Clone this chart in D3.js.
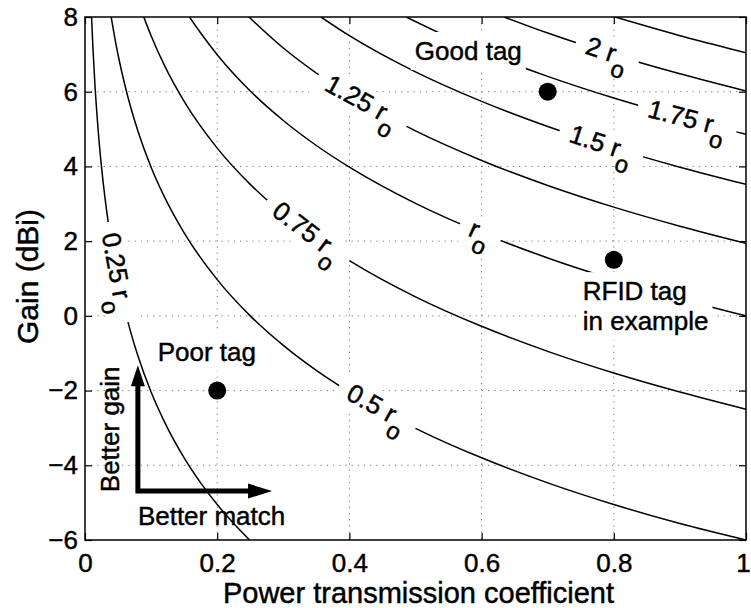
<!DOCTYPE html>
<html>
<head>
<meta charset="utf-8">
<script src="https://cdn.jsdelivr.net/npm/d3@7"></script>
<style>
body { margin: 0; background: #fff; }
svg text { font-family: "Liberation Sans", Arial, Helvetica, sans-serif; fill: #000; stroke: #000; stroke-width: 0.45px; white-space: pre; }
</style>
</head>
<body>
<svg id="chart" width="751" height="608"></svg>
<script>
// contour levels, in multiples of r_o, and the points: [tau, gain dBi]
const levels = [0.25, 0.5, 0.75, 1, 1.25, 1.5, 1.75, 2, 2.25]
const levelNames = ['0.25', '0.5', '0.75', '', '1.25', '1.5', '1.75', '2', null]
const labelTau = [0.048, 0.442, 0.336, 0.598, 0.419, 0.781, 0.911, 0.79, null]

const curve025 = [[0.0099, 8.0], [0.012, 7.17], [0.015, 6.2], [0.02, 4.95], [0.025, 3.98], [0.03, 3.19],
    [0.035, 2.52], [0.04, 1.94], [0.05, 0.97], [0.06, 0.18], [0.07, -0.49], [0.08, -1.07], [0.1, -2.04],
    [0.12, -2.83], [0.15, -3.8], [0.175, -4.47], [0.2, -5.05], [0.225, -5.56], [0.249, -6.0]]
const curve05 = [[0.0396, 8.0], [0.045, 7.45], [0.05, 6.99], [0.06, 6.2], [0.07, 5.53], [0.08, 4.95],
    [0.1, 3.98], [0.12, 3.19], [0.15, 2.22], [0.2, 0.97], [0.25, 0.0], [0.3, -0.79], [0.35, -1.46],
    [0.4, -2.04], [0.5, -3.01], [0.6, -3.8], [0.7, -4.47], [0.8, -5.05], [0.9, -5.56], [1.0, -6.0]]
const curve075 = [[0.089, 8.0], [0.1, 7.5], [0.12, 6.71], [0.15, 5.74], [0.2, 4.49], [0.25, 3.52],
    [0.3, 2.73], [0.35, 2.06], [0.4, 1.48], [0.5, 0.51], [0.6, -0.28], [0.7, -0.95], [0.8, -1.53],
    [0.9, -2.04], [1.0, -2.5]]
const curve1 = [[0.158, 8.0], [0.175, 7.57], [0.2, 6.99], [0.25, 6.02], [0.3, 5.23], [0.35, 4.56],
    [0.4, 3.98], [0.5, 3.01], [0.6, 2.22], [0.7, 1.55], [0.8, 0.97], [0.9, 0.46], [1.0, 0.0]]
const curve125 = [[0.248, 8.0], [0.3, 7.17], [0.35, 6.5], [0.4, 5.92], [0.5, 4.95], [0.6, 4.16],
    [0.7, 3.49], [0.8, 2.91], [0.9, 2.4], [1.0, 1.94]]
const curve15 = [[0.357, 8.0], [0.4, 7.5], [0.5, 6.53], [0.6, 5.74], [0.7, 5.07], [0.8, 4.49],
    [0.9, 3.98], [1.0, 3.52]]
const curve175 = [[0.486, 8.0], [0.55, 7.46], [0.6, 7.08], [0.7, 6.41], [0.8, 5.83], [0.9, 5.32], [1.0, 4.86]]
const curve2 = [[0.634, 8.0], [0.7, 7.57], [0.8, 6.99], [0.9, 6.48], [1.0, 6.02]]
const curve225 = [[0.802, 8.0], [0.85, 7.75], [0.9, 7.5], [0.95, 7.27], [1.0, 7.04]]
const curves = [curve025, curve05, curve075, curve1, curve125, curve15, curve175, curve2, curve225]

const tagNames = ['Good tag', 'RFID tag', 'Poor tag']
const tagTau = [0.7, 0.8, 0.2]
const tagGain = [6, 1.5, -2]

const xTicks = [0, 0.2, 0.4, 0.6, 0.8, 1]
const yTicks = [-6, -4, -2, 0, 2, 4, 6, 8]

const margin = {top: 17, right: 5, bottom: 68, left: 85}
const W = 751, H = 608
const width = W - margin.left - margin.right
const height = H - margin.top - margin.bottom

const svg = d3.select('#chart')
const g = svg.append('g').attr('transform', `translate(${margin.left},${margin.top})`)

const x = d3.scaleLinear().domain([0, 1]).range([0, width])
const y = d3.scaleLinear().domain([-6, 8]).range([height, 0])

svg.append('defs').append('clipPath').attr('id', 'plot')
    .append('rect').attr('width', width).attr('height', height)

// dotted grid
const grid = g.append('g').attr('stroke', '#777').attr('stroke-width', 1).attr('stroke-dasharray', '1.2,5')
grid.selectAll('.gx').data(xTicks.slice(1, -1)).enter().append('line')
    .attr('x1', d => x(d)).attr('x2', d => x(d)).attr('y1', 0).attr('y2', height)
grid.selectAll('.gy').data(yTicks.slice(1, -1)).enter().append('line')
    .attr('y1', d => y(d)).attr('y2', d => y(d)).attr('x1', 0).attr('x2', width)

// contour curves
const line = d3.line().x(d => x(d[0])).y(d => y(d[1])).curve(d3.curveMonotoneX)
g.append('g').attr('clip-path', 'url(#plot)')
    .selectAll('path').data(curves).enter().append('path')
    .attr('d', line).attr('fill', 'none').attr('stroke', '#000').attr('stroke-width', 1.5)

// inline contour labels
function pointAt(pts, t) {
    const i = Math.min(pts.length - 1, Math.max(1, d3.bisector(d => d[0]).left(pts, t)))
    const a = pts[i - 1], b = pts[i]
    const f = (t - a[0]) / (b[0] - a[0])
    const ang = Math.atan2(y(b[1]) - y(a[1]), x(b[0]) - x(a[0])) * 180 / Math.PI
    return [x(t), y(a[1] + f * (b[1] - a[1])), ang]
}

levels.forEach((lv, i) => {
    if (levelNames[i] === null) return
    const [px, py, ang] = pointAt(curves[i], labelTau[i])
    const lg = g.append('g').attr('transform', `translate(${px},${py}) rotate(${ang})`)
    const bg = lg.append('rect').attr('fill', '#fff')
    const t = lg.append('text').attr('text-anchor', 'middle').attr('y', 8).attr('font-size', 26)
    if (levelNames[i]) t.append('tspan').text(levelNames[i] + ' ')
    t.append('tspan').text('r')
    t.append('tspan').attr('dy', 13).attr('font-size', 24).text('o')
    const w = t.node().getComputedTextLength()
    bg.attr('x', -w / 2 - 11).attr('y', -15).attr('width', w + 22).attr('height', 32)
})

// annotations with white background
function boxedText(lines, tx, ty) {
    const tg = g.append('g')
    const bg = tg.append('rect').attr('fill', '#fff')
    const t = tg.append('text').attr('font-size', 26)
    lines.forEach((s, k) => t.append('tspan').attr('x', tx).attr('y', ty + k * 30).text(s))
    const bb = t.node().getBBox()
    bg.attr('x', bb.x - 4).attr('y', bb.y - 4).attr('width', bb.width + 8).attr('height', bb.height + 8)
}
boxedText([tagNames[0]], x(0.499), y(6.85))
boxedText([tagNames[1], 'in example'], x(0.753), y(0.42))
boxedText([tagNames[2]], x(0.11), y(-1.21))

// tag dots
g.selectAll('.dot').data(tagTau).enter().append('circle')
    .attr('cx', d => x(d)).attr('cy', (d, i) => y(tagGain[i])).attr('r', 9).attr('fill', '#000')

// "better" arrows
const ox = x(0.08), oy = y(-4.69)
const vTip = y(-1.32), hTip = x(0.283)
g.append('path').attr('d', `M${ox},${vTip + 19}L${ox},${oy}L${hTip - 22},${oy}`)
    .attr('fill', 'none').attr('stroke', '#000').attr('stroke-width', 5).attr('stroke-linejoin', 'miter')
g.append('path').attr('d', `M${ox},${vTip}L${ox - 7},${vTip + 21}L${ox + 7},${vTip + 21}Z`).attr('fill', '#000')
g.append('path').attr('d', `M${hTip},${oy}L${hTip - 24},${oy - 7.5}L${hTip - 24},${oy + 7.5}Z`).attr('fill', '#000')
g.append('text').attr('font-size', 26)
    .attr('transform', `translate(${x(0.051)},${y(-4.72)}) rotate(-90)`).text('Better gain')
g.append('text').attr('font-size', 26).attr('x', x(0.08)).attr('y', y(-5.6)).text('Better match')

// axes with inward ticks on all sides
const fmt = d => d < 0 ? '\u2212' + (-d) : String(d)
g.append('g').attr('transform', `translate(0,${height})`)
    .call(d3.axisBottom(x).tickValues(xTicks).tickSize(-7).tickPadding(14).tickFormat(fmt))
g.append('g')
    .call(d3.axisLeft(y).tickValues(yTicks).tickSize(-7).tickPadding(7).tickFormat(fmt))
g.append('g').call(d3.axisTop(x).tickValues(xTicks).tickSize(-7).tickFormat(''))
g.append('g').attr('transform', `translate(${width},0)`)
    .call(d3.axisRight(y).tickValues(yTicks).tickSize(-7).tickFormat(''))
g.selectAll('.domain').remove()
g.selectAll('.tick line').attr('stroke', '#000').attr('stroke-width', 1.2)
g.selectAll('.tick text').attr('font-size', 26).attr('font-family', '"Liberation Sans", Arial, sans-serif').attr('fill', '#000')
    .filter(d => d === 1).attr('dx', -3)

g.append('rect').attr('width', width).attr('height', height)
    .attr('fill', 'none').attr('stroke', '#000').attr('stroke-width', 1.5)

// axis titles
svg.append('text').attr('font-size', 29).attr('text-anchor', 'middle')
    .attr('x', margin.left + width / 2 + 3).attr('y', 603).text('Power transmission coefficient')
svg.append('text').attr('font-size', 30).attr('text-anchor', 'middle')
    .attr('transform', `translate(38,${margin.top + height / 2 - 2}) rotate(-90)`).text('Gain (dBi)')
</script>
</body>
</html>
